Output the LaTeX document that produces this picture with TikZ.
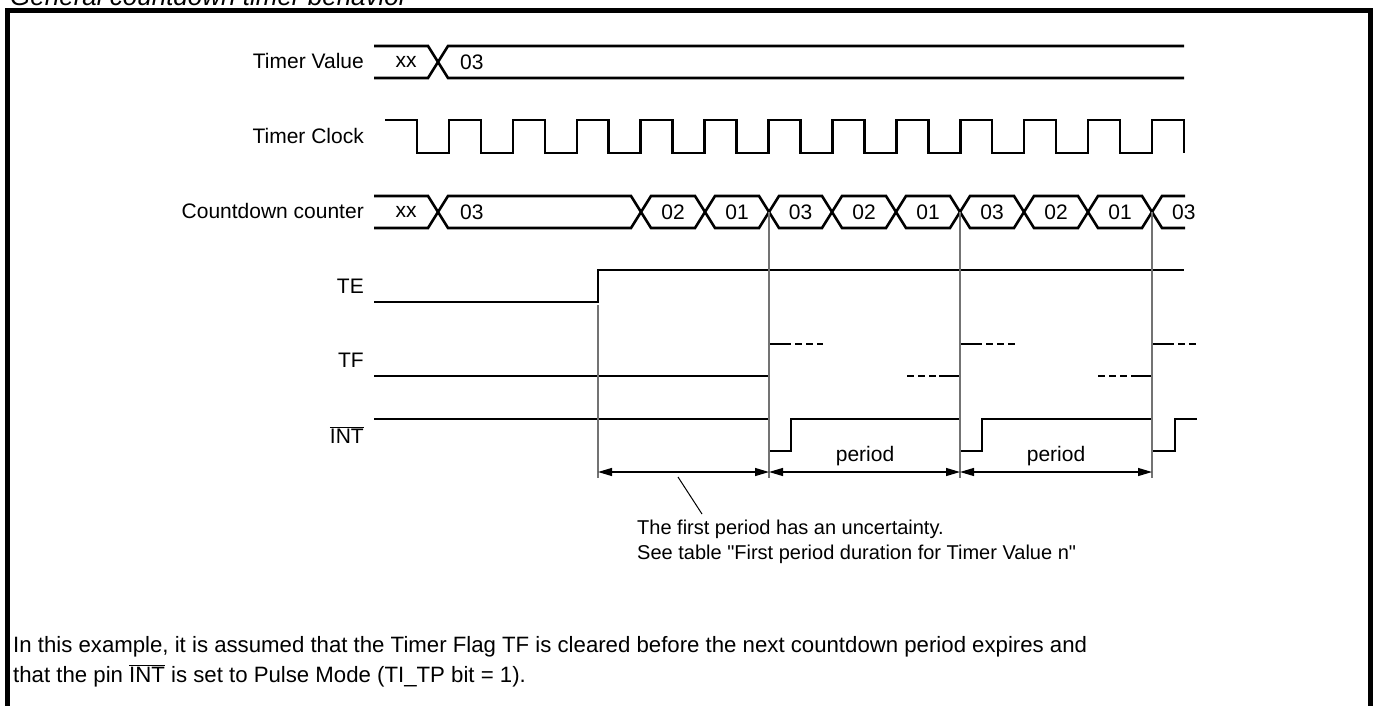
\documentclass[tikz,border=0pt]{standalone}
\usepackage{fontspec}
\setmainfont{Liberation Sans}
\usetikzlibrary{arrows.meta}
\begin{document}
\begin{tikzpicture}[x=1pt,y=-1pt,
  sig/.style={line width=2.6pt, line join=miter},
  guide/.style={line width=1.1pt, draw=black!55},
  dim/.style={line width=1.2pt, {Triangle[length=14pt,width=8pt]}-{Triangle[length=14pt,width=8pt]}},
  dsh/.style={line width=2.6pt, dash pattern=on 7pt off 4pt},
  lbl/.style={anchor=east, inner sep=0pt, font=\fontsize{21}{25}\selectfont},
  val/.style={inner sep=0pt, font=\fontsize{21}{25}\selectfont},
  txt/.style={anchor=base west, inner sep=0pt, align=left, font=\fontsize{20}{25}\selectfont},
  btxt/.style={anchor=base west, inner sep=0pt, font=\fontsize{22.2}{26}\selectfont}]
\useasboundingbox (0,0) rectangle (1375,706);
% frame and title
\draw[line width=4.5pt] (7.5,720) -- (7.5,10.5) -- (1370.5,10.5) -- (1370.5,720);
\node[anchor=base west, inner sep=0pt, font=\fontsize{26}{30}\selectfont\itshape] (title) at (10,6) {General countdown timer behavior};
% labels
\node[lbl] (lTV) at (364,61) {Timer Value};
\node[lbl] (lTC) at (364,136) {Timer Clock};
\node[lbl] (lCC) at (364,211) {Countdown counter};
\node[lbl] (lTE) at (364,286) {TE};
\node[lbl] (lTF) at (364,360) {TF};
\node[lbl] (lINT) at (364,435) {$\overline{\hbox{INT}}$};
% timer value
\draw[sig] (374,46) -- (428,46) -- (448,78) -- (1184,78);
\draw[sig] (374,78) -- (428,78) -- (448,46) -- (1184,46);
\node[val] (tvxx) at (406,62) {xx};
\node[val, anchor=west] (tv03) at (460,62) {03};
% timer clock
\draw[sig] (385,120) \foreach \k in {0,...,11} { -- ({417+63.9*\k},120) -- ({417+63.9*\k},153) -- ({449+63.9*\k},153) -- ({449+63.9*\k},120) } -- (1183.8,120) -- (1183.8,153);
% countdown counter
\draw[sig] (374,196) -- (428,196) -- (438,212) -- (428,228) -- (374,228);
\node[val] (ccxx) at (406,212) {xx};
\draw[sig] (438,212) -- (448,196) -- (631,196) -- (641,212) -- (631,228) -- (448,228) -- cycle;
\node[val, anchor=west] (cc03) at (460,212) {03};
\foreach \a/\b/\v [count=\i] in {641/705/02, 705/769/01, 769/832/03, 832/896/02, 896/960/01, 960/1024/03, 1024/1088/02, 1088/1152/01}{
  \draw[sig] (\a,212) -- (\a+10,196) -- (\b-10,196) -- (\b,212) -- (\b-10,228) -- (\a+10,228) -- cycle;
  \node[val] (cv\i) at ({(\a+\b)/2},212) {\v};
}
\draw[sig] (1185,196) -- (1162,196) -- (1152,212) -- (1162,228) -- (1185,228);
\node[val, anchor=west] (cvlast) at (1172,212) {03};
% TE
\draw[sig] (374,302) -- (598,302) -- (598,270) -- (1184,270);
% TF
\draw[sig] (374,376) -- (769,376) -- (769,344) -- (791,344);
\draw[dsh] (795,344) -- (823,344);
\draw[dsh] (907,376) -- (937,376);
\draw[sig] (939,376) -- (960,376) -- (960,344) -- (982,344);
\draw[dsh] (986,344) -- (1016,344);
\draw[dsh] (1098,376) -- (1128,376);
\draw[sig] (1131,376) -- (1152,376) -- (1152,344) -- (1174,344);
\draw[dsh] (1178,344) -- (1198,344);
% INT
\draw[sig] (374,419) -- (769,419) -- (769,451) -- (791,451) -- (791,419) -- (960,419) -- (960,451) -- (982,451) -- (982,419) -- (1152,419) -- (1152,451) -- (1175,451) -- (1175,419) -- (1197,419);
% guides
\coordinate (m0) at (598,472);
\coordinate (m1) at (769,472);
\coordinate (m2) at (960,472);
\coordinate (m3) at (1152,472);
\draw[guide] (598,305) -- (598,478);
\draw[guide] (769,212) -- (769,478);
\draw[guide] (960,212) -- (960,478);
\draw[guide] (1152,212) -- (1152,478);
\draw[dim] (m0) -- (m1);
\draw[dim] (m1) -- (m2);
\draw[dim] (m2) -- (m3);
\node[val, anchor=base] (p1) at (865,461) {period};
\node[val, anchor=base] (p2) at (1056,461) {period};
% note
\coordinate (lA) at (678,477);
\coordinate (lB) at (702,514);
\draw[line width=1pt] (lA) -- (lB);
\node[txt] (note) at (637,559) {The first period has an uncertainty.\\See table \textquotedbl First period duration for Timer Value n\textquotedbl};
% bottom text
\node[btxt] (b1) at (13,652) {In this example, it is assumed that the Timer Flag TF is cleared before the next countdown period expires and};
\node[btxt] (b2) at (13,682) {that the pin $\overline{\hbox{INT}}$ is set to Pulse Mode (TI\_TP bit = 1).};
\end{tikzpicture}
\end{document}
